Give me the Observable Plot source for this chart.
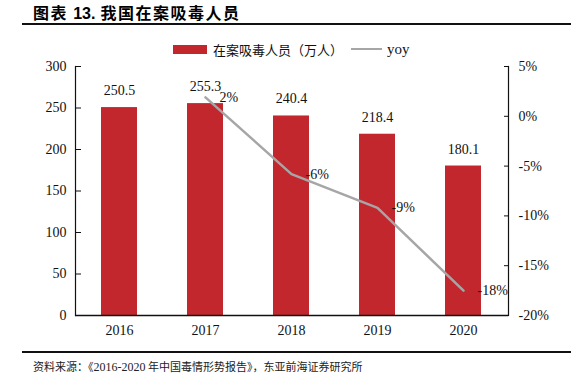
<!DOCTYPE html>
<html>
<head>
<meta charset="utf-8">
<script src="https://cdn.jsdelivr.net/npm/d3@7"></script>
<script src="https://cdn.jsdelivr.net/npm/@observablehq/plot@0.6"></script>
<style>
  html, body { margin: 0; padding: 0; background: #fff; }
  #wrap { position: relative; width: 583px; height: 382px; overflow: hidden; }
  #title { position: absolute; left: 33px; top: 2px; font-family: "Noto Sans CJK SC", sans-serif; font-weight: bold; font-size: 16px; letter-spacing: 1.5px; color: #000; line-height: 20px; white-space: nowrap; }
  #title .num { font-family: "Liberation Sans", Arial, sans-serif; letter-spacing: 0; }
  .rule { position: absolute; left: 22px; width: 549px; height: 2px; background: #111; }
  #legend { position: absolute; left: 173px; top: 39px; height: 20px; font-size: 13px; color: #111; white-space: nowrap; display: flex; align-items: center; }
  #legend .sw { display: inline-block; width: 34px; height: 9px; background: #C1272D; margin-right: 6px; }
  #legend .cn { font-family: "Noto Sans CJK SC", sans-serif; font-size: 13px; }
  #legend .ln { display: inline-block; width: 31px; height: 2.5px; background: #A6A6A6; margin: 0 5px 0 8px; }
  #legend .en { font-family: "Liberation Serif", serif; font-size: 15px; }
  #source { position: absolute; left: 33px; top: 358px; font-family: "Noto Sans CJK SC", sans-serif; font-size: 11px; color: #222; white-space: nowrap; }
  #source .n { font-family: "Liberation Serif", serif; font-size: 12px; }
  #chart { position: absolute; left: 0; top: 0; }
</style>
</head>
<body>
<div id="wrap">
  <div id="chart"></div>
  <div id="title">图表 <span class="num">13.</span> 我国在案吸毒人员</div>
  <div class="rule" style="top:23px"></div>
  <div id="legend"><span class="sw"></span><span class="cn">在案吸毒人员（万人）</span><span class="ln"></span><span class="en">yoy</span></div>
  <div class="rule" style="top:351px"></div>
  <div id="source">资料来源：《<span class="n">2016-2020</span> 年中国毒情形势报告》，东亚前海证券研究所</div>
</div>
<script>
const years = ["2016", "2017", "2018", "2019", "2020"];
const users = [250.5, 255.3, 240.4, 218.4, 180.1];           // 万人
const yoyYears = ["2017", "2018", "2019", "2020"];
const yoy = [1.9, -5.8, -9.2, -17.5];                         // %
const yoyLabels = ["2%", "-6%", "-9%", "-18%"];
const leftTicks = [0, 50, 100, 150, 200, 250, 300];
const rightTicks = [-20, -15, -10, -5, 0, 5];

// right axis domain [-20, 5] mapped onto left axis domain [0, 300]
const R0 = -20, R1 = 5, L0 = 0, L1 = 300;
const toLeft = p => L0 + (p - R0) * (L1 - L0) / (R1 - R0);
const toRight = v => R0 + (v - L0) * (R1 - R0) / (L1 - L0);

const bars = years.map((y, i) => ({year: y, value: users[i]}));
const line = yoyYears.map((y, i) => ({year: y, yoy: yoy[i], label: yoyLabels[i]}));

const font = "Liberation Serif, Times New Roman, serif";

const chart = Plot.plot({
  width: 583,
  height: 345,
  marginTop: 66,
  marginBottom: 30,
  marginLeft: 75,
  marginRight: 75,
  style: {fontFamily: font, fontSize: "14px", color: "#111", background: "transparent"},
  x: {domain: years, paddingInner: 0.58, paddingOuter: 0.29},
  y: {domain: [L0, L1]},
  marks: [
    Plot.barY(bars, {x: "year", y: "value", fill: "#C1272D"}),
    Plot.text(bars, {x: "year", y: "value", text: d => d.value.toFixed(1), dy: -17, fill: "#111", fontSize: 14}),
    Plot.line(line, {x: "year", y: d => toLeft(d.yoy), stroke: "#A6A6A6", strokeWidth: 2.5}),
    Plot.text(line, {x: "year", y: d => toLeft(d.yoy), text: "label", textAnchor: "start", dx: 14, fill: "#111", fontSize: 14}),
    Plot.axisY(leftTicks, {anchor: "left", tickSize: -6, tickPadding: 15, label: null, fontSize: 14}),
    Plot.axisY(rightTicks.map(toLeft), {anchor: "right", tickSize: -5, tickPadding: 15, tickFormat: v => Math.round(toRight(v)) + "%", label: null, fontSize: 14}),
    Plot.axisX(years, {anchor: "bottom", tickSize: 0, tickPadding: 10, label: null, fontSize: 14}),
    Plot.ruleY([0], {stroke: "#111", strokeWidth: 1.5}),
    Plot.frame({anchor: "left", stroke: "#111", strokeWidth: 1.2}),
    Plot.frame({anchor: "right", stroke: "#111", strokeWidth: 1.2})
  ]
});
document.getElementById("chart").appendChild(chart);
</script>
</body>
</html>
